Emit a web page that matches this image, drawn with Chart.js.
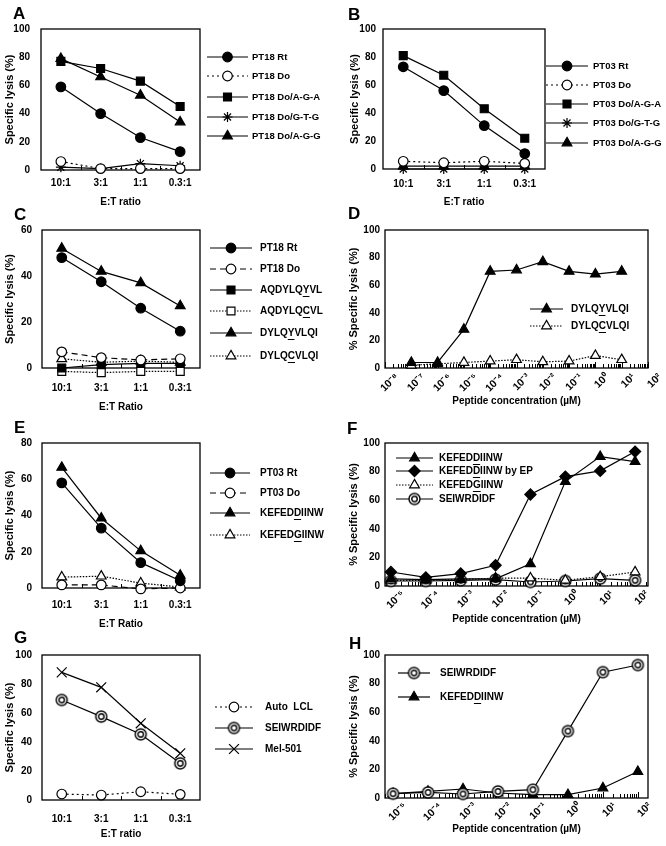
<!DOCTYPE html>
<html>
<head>
<meta charset="utf-8">
<script src="https://cdn.jsdelivr.net/npm/chart.js@4.4.1/dist/chart.umd.min.js"></script>
<style>
  body { margin: 0; background: #fff; }
  #fig { position: relative; width: 666px; height: 846px; overflow: hidden; }
  .panel { position: absolute; }
  .tag { position: absolute; font: bold 17px 'Liberation Sans', Arial, sans-serif; line-height: 1; }
</style>
</head>
<body>
<div id="fig"></div>
<script>
const etRatios = ["10:1", "3:1", "1:1", "0.3:1"];

// A
const aRt = [59, 40, 23, 13];
const aDo = [6, 1, 1, 1];
const aAGA = [77, 72, 63, 45];
const aGTG = [2, 1, 4.5, 3];
const aAGG = [79, 66, 53, 34];
// B
const bRt = [73, 56, 31, 11];
const bDo = [5.5, 4.5, 5.5, 4];
const bAGA = [81, 67, 43, 22];
const bGTG = [0, 0, 0, 0];
const bAGG = [2, 2, 2, 2];
// C
const cRt = [48, 37.5, 26, 16];
const cDo = [7, 4.5, 3.5, 4];
const cAqY = [0, 1.5, 2, 2];
const cAqC = [-1.5, -2, -1.5, -1.5];
const cDyY = [52, 42, 37, 27];
const cDyC = [4, 2.5, 3, 2.5];
// D
const concD = [1e-7, 1e-6, 1e-5, 1e-4, 1e-3, 1e-2, 1e-1, 1, 10];
const dDyY = [4, 4, 28, 70, 71, 77, 70, 68, 70];
const dDyC = [2, 3, 4, 5, 6, 4.5, 5, 9, 6];
// E
const eRt = [58, 33, 14, 4];
const eDo = [1.7, 1.7, -0.5, 0];
const eKD = [66.5, 38.5, 20.5, 7];
const eKG = [6, 6.5, 2.7, 0.5];
// F
const concF = [1e-5, 1e-4, 1e-3, 1e-2, 1e-1, 1, 10, 100];
const fKD = [5, 4.5, 5, 5, 15.5, 73, 90.5, 87];
const fKDep = [9.8, 6, 8.7, 14.5, 64, 76.5, 80.5, 94];
const fKG = [4, 4, 4.5, 5.5, 5.5, 4, 6.5, 9.8];
const fSE = [3.5, 3.5, 4, 4.5, 2.8, 3.5, 5.2, 4];
// G
const gLCL = [4.1, 3.4, 5.7, 3.9];
const gSE = [69, 57.5, 45.3, 25.3];
const gMel = [88, 77.7, 52.9, 32.2];
// H
const concH = [1e-5, 1e-4, 1e-3, 1e-2, 1e-1, 1, 10, 100];
const hSE = [3, 3.9, 2.8, 4.6, 5.8, 46.8, 88, 93];
const hKD = [3, 4.6, 6.3, 3.5, 2.3, 2.3, 7, 18.5];

const FONT = "'Liberation Sans', Arial, sans-serif";
Chart.defaults.font.family = FONT;
Chart.defaults.font.weight = "bold";
Chart.defaults.color = "#000";

function ringMark(r) {
  const c = document.createElement("canvas");
  const s = 2 * Math.ceil(r) + 3;
  c.width = s;
  c.height = s;
  const g = c.getContext("2d");
  g.strokeStyle = "#000";
  g.fillStyle = "#fff";
  g.lineWidth = 1.4;
  g.beginPath();
  g.arc(s / 2, s / 2, r, 0, Math.PI * 2);
  g.fill();
  g.stroke();
  g.beginPath();
  g.arc(s / 2, s / 2, r * 0.5, 0, Math.PI * 2);
  g.stroke();
  return c;
}
const ring = ringMark(5.5);

const marks = {
  fc: ["circle", "#000", 4.8],
  oc: ["circle", "#fff", 4.8],
  fs: ["rect", "#000", 5.6],
  os: ["rect", "#fff", 5.6],
  ft: ["triangle", "#000", 5.6],
  ot: ["triangle", "#fff", 5.6],
  dm: ["rectRot", "#000", 5.6],
  st: ["star", "#000", 5],
  xx: ["crossRot", "#000", 7],
  ring: [ring, "#fff", 6],
};
const dashes = { solid: [], dot: [2, 3], dash: [6, 4], fine: [1.5, 1.5] };

function series(label, data, mark, dash, ul) {
  const m = marks[mark];
  return {
    label: label,
    data: data,
    ul: ul,
    pointStyle: m[0],
    pointBackgroundColor: m[1],
    pointRadius: m[2],
    pointBorderColor: "#000",
    pointBorderWidth: 1.2,
    borderColor: "#000",
    borderWidth: 1.2,
    borderDash: dashes[dash],
    fill: false,
    tension: 0,
    clip: false,
  };
}

function pts(xs, ys) {
  return xs.map((x, i) => ({ x: x, y: ys[i] }));
}

const sup = { "-": "\u207B", 0: "\u2070", 1: "\u00B9", 2: "\u00B2", 3: "\u00B3", 4: "\u2074", 5: "\u2075", 6: "\u2076", 7: "\u2077", 8: "\u2078", 9: "\u2079" };
function powLabel(v) {
  const e = String(Math.round(Math.log10(v)));
  return "10" + e.split("").map((c) => sup[c]).join("");
}

// box round the plot area + small inner ticks on the bottom edge
const frame = {
  id: "frame",
  beforeDatasetsDraw(chart) {
    const { ctx, chartArea: a } = chart;
    const x = chart.scales.x;
    ctx.save();
    ctx.strokeStyle = "#000";
    ctx.lineWidth = 1.3;
    ctx.strokeRect(a.left, a.top, a.right - a.left, a.bottom - a.top);
    ctx.lineWidth = 1;
    ctx.beginPath();
    if (x.type === "category") {
      for (let i = 0; i < x.ticks.length - 1; i++) {
        const px = Math.round((x.getPixelForTick(i) + x.getPixelForTick(i + 1)) / 2) + 0.5;
        ctx.moveTo(px, a.bottom);
        ctx.lineTo(px, a.bottom - 4);
      }
    } else {
      const lo = Math.floor(Math.log10(x.min));
      const hi = Math.ceil(Math.log10(x.max));
      for (let e = lo; e <= hi; e++) {
        for (let m = 1; m < 10; m++) {
          const v = m * Math.pow(10, e);
          if (v < x.min || v > x.max) continue;
          const px = Math.round(x.getPixelForValue(v)) + 0.5;
          ctx.moveTo(px, a.bottom);
          ctx.lineTo(px, a.bottom - (m === 1 ? 6 : 4));
        }
      }
    }
    ctx.stroke();
    ctx.restore();
  },
};

// legend drawn as line sample + marker + label, with one underlined letter
const keyBox = {
  id: "keyBox",
  afterDraw(chart, args, o) {
    if (!o.rows) return;
    const ctx = chart.ctx;
    chart.data.datasets.forEach((ds, i) => {
      const y = o.rows[i];
      ctx.save();
      ctx.strokeStyle = "#000";
      ctx.lineWidth = ds.borderWidth;
      ctx.setLineDash(ds.borderDash);
      ctx.beginPath();
      ctx.moveTo(o.x0, y);
      ctx.lineTo(o.x1, y);
      ctx.stroke();
      ctx.setLineDash([]);
      ctx.fillStyle = ds.pointBackgroundColor;
      ctx.lineWidth = ds.pointBorderWidth;
      Chart.helpers.drawPoint(
        ctx,
        { pointStyle: ds.pointStyle, radius: ds.pointRadius, rotation: 0, borderWidth: ds.pointBorderWidth },
        (o.x0 + o.x1) / 2,
        y
      );
      ctx.fillStyle = "#000";
      ctx.font = "bold " + o.size + "px " + FONT;
      ctx.textBaseline = "middle";
      ctx.fillText(ds.label, o.tx, y);
      if (ds.ul != null) {
        const before = ctx.measureText(ds.label.slice(0, ds.ul)).width;
        const w = ctx.measureText(ds.label[ds.ul]).width;
        const uy = Math.round(y + o.size * 0.6) + 0.5;
        ctx.lineWidth = 1;
        ctx.beginPath();
        ctx.moveTo(o.tx + before, uy);
        ctx.lineTo(o.tx + before + w, uy);
        ctx.stroke();
      }
      ctx.restore();
    });
  },
};

function buildPanel(p) {
  const fig = document.getElementById("fig");
  const box = document.createElement("div");
  box.className = "panel";
  box.style.left = p.left + "px";
  box.style.top = p.top + "px";
  const canvas = document.createElement("canvas");
  canvas.width = 333;
  canvas.height = p.h;
  box.appendChild(canvas);
  fig.appendChild(box);

  const tag = document.createElement("div");
  tag.className = "tag";
  tag.textContent = p.letter;
  tag.style.left = p.left + p.tag[0] + "px";
  tag.style.top = p.top + p.tag[1] - 2 + "px";
  fig.appendChild(tag);

  const a = p.area;
  let xScale;
  if (p.log) {
    xScale = {
      type: "logarithmic",
      min: p.xmin,
      max: p.xmax,
      grid: { display: false, drawTicks: false },
      border: { display: false },
      afterBuildTicks: (s) => {
        const t = [];
        for (let e = Math.ceil(Math.log10(s.min) - 1e-9); e <= Math.floor(Math.log10(s.max) + 1e-9); e++) {
          t.push({ value: Math.pow(10, e) });
        }
        s.ticks = t;
      },
      ticks: {
        autoSkip: false,
        minRotation: 45,
        maxRotation: 45,
        labelOffset: 12,
        padding: p.xTickPad,
        font: { size: 10.5, weight: "bold" },
        callback: (v) => powLabel(v),
      },
      title: { display: true, text: p.xTitle, font: { size: 10, weight: "bold" }, padding: { top: 0, bottom: p.xTitlePad } },
      afterFit: (s) => { s.height = p.h - a.b; },
    };
  } else {
    xScale = {
      type: "category",
      offset: true,
      grid: { display: false, drawTicks: false },
      border: { display: false },
      ticks: { padding: p.xTickPad, font: { size: 10, weight: "bold" } },
      title: { display: true, text: p.xTitle, font: { size: 10, weight: "bold" }, padding: { top: 0, bottom: p.xTitlePad } },
      afterFit: (s) => { s.height = p.h - a.b; },
    };
  }

  new Chart(canvas, {
    type: "line",
    data: { labels: p.labels, datasets: p.datasets },
    options: {
      responsive: false,
      animation: false,
      devicePixelRatio: 1,
      layout: { padding: { left: 0, top: a.t, right: 333 - a.r, bottom: 0 } },
      plugins: {
        legend: { display: false },
        tooltip: { enabled: false },
        keyBox: p.key,
      },
      scales: {
        x: xScale,
        y: {
          type: "linear",
          min: 0,
          max: p.ymax,
          grid: { display: false, drawTicks: false },
          border: { display: false },
          ticks: { stepSize: 20, padding: p.yTickPad, font: { size: 10, weight: "bold" } },
          title: { display: true, text: p.yTitle, font: { size: 11, weight: "bold" }, padding: { top: p.yTitlePad, bottom: 0 } },
          afterFit: (s) => { s.width = a.l; },
        },
      },
    },
    plugins: [frame, keyBox],
  });
}

const lysis = "Specific lysis (%)";
const pctLysis = "% Specific lysis (%)";
const conc = "Peptide concentration (\u00B5M)";

buildPanel({
  letter: "A", left: 0, top: 0, h: 208, tag: [13, 7],
  area: { l: 41, t: 29, r: 200, b: 170 },
  labels: etRatios, ymax: 100, yTickPad: 11, yTitle: lysis, yTitlePad: 3,
  xTitle: "E:T ratio", xTitlePad: 0, xTickPad: 7,
  datasets: [
    series("PT18 Rt", aRt, "fc", "solid"),
    series("PT18 Do", aDo, "oc", "dot"),
    series("PT18 Do/A-G-A", aAGA, "fs", "solid"),
    series("PT18 Do/G-T-G", aGTG, "st", "solid"),
    series("PT18 Do/A-G-G", aAGG, "ft", "solid"),
  ],
  key: { x0: 207, x1: 248, tx: 252, rows: [57, 76, 97, 117, 136], size: 9.5 },
});

buildPanel({
  letter: "B", left: 333, top: 0, h: 208, tag: [15, 8],
  area: { l: 50, t: 29, r: 212, b: 169 },
  labels: etRatios, ymax: 100, yTickPad: 7, yTitle: lysis, yTitlePad: 15,
  xTitle: "E:T ratio", xTitlePad: 0, xTickPad: 9,
  datasets: [
    series("PT03 Rt", bRt, "fc", "solid"),
    series("PT03 Do", bDo, "oc", "dot"),
    series("PT03 Do/A-G-A", bAGA, "fs", "solid"),
    series("PT03 Do/G-T-G", bGTG, "st", "solid"),
    series("PT03 Do/A-G-G", bAGG, "ft", "solid"),
  ],
  key: { x0: 213, x1: 255, tx: 260, rows: [66, 85, 104, 123, 143], size: 9.5 },
});

buildPanel({
  letter: "C", left: 0, top: 207, h: 210, tag: [14, 1],
  area: { l: 42, t: 23, r: 200, b: 161 },
  labels: etRatios, ymax: 60, yTickPad: 10, yTitle: lysis, yTitlePad: 3,
  xTitle: "E:T Ratio", xTitlePad: 4, xTickPad: 14,
  datasets: [
    series("PT18 Rt", cRt, "fc", "solid"),
    series("PT18 Do", cDo, "oc", "dash"),
    series("AQDYLQYVL", cAqY, "fs", "solid", 6),
    series("AQDYLQCVL", cAqC, "os", "fine", 6),
    series("DYLQYVLQI", cDyY, "ft", "solid", 4),
    series("DYLQCVLQI", cDyC, "ot", "fine", 4),
  ],
  key: { x0: 210, x1: 252, tx: 260, rows: [41, 62, 83, 104, 126, 149], size: 10 },
});

buildPanel({
  letter: "D", left: 333, top: 207, h: 210, tag: [15, 0],
  area: { l: 52, t: 23, r: 315, b: 161 },
  log: true, xmin: 1e-8, xmax: 1e2,
  ymax: 100, yTickPad: 5, yTitle: pctLysis, yTitlePad: 14,
  xTitle: conc, xTitlePad: 10, xTickPad: 3,
  datasets: [
    series("DYLQYVLQI", pts(concD, dDyY), "ft", "solid", 4),
    series("DYLQCVLQI", pts(concD, dDyC), "ot", "fine", 4),
  ],
  key: { x0: 197, x1: 230, tx: 238, rows: [102, 119], size: 10 },
});

buildPanel({
  letter: "E", left: 0, top: 416, h: 214, tag: [14, 5],
  area: { l: 42, t: 27, r: 200, b: 172 },
  labels: etRatios, ymax: 80, yTickPad: 10, yTitle: lysis, yTitlePad: 3,
  xTitle: "E:T Ratio", xTitlePad: 0, xTickPad: 11,
  datasets: [
    series("PT03 Rt", eRt, "fc", "solid"),
    series("PT03 Do", eDo, "oc", "dash"),
    series("KEFEDDIINW", eKD, "ft", "solid", 5),
    series("KEFEDGIINW", eKG, "ot", "fine", 5),
  ],
  key: { x0: 210, x1: 250, tx: 260, rows: [57, 77, 97, 119], size: 10 },
});

buildPanel({
  letter: "F", left: 333, top: 416, h: 214, tag: [14, 6],
  area: { l: 52, t: 27, r: 315, b: 170 },
  log: true, xmin: Math.pow(10, -5.17), xmax: Math.pow(10, 2.37),
  ymax: 100, yTickPad: 5, yTitle: pctLysis, yTitlePad: 14,
  xTitle: conc, xTitlePad: 5, xTickPad: 2,
  datasets: [
    series("KEFEDDIINW", pts(concF, fKD), "ft", "solid", 5),
    series("KEFEDDIINW by EP", pts(concF, fKDep), "dm", "solid", 5),
    series("KEFEDGIINW", pts(concF, fKG), "ot", "fine", 5),
    series("SEIWRDIDF", pts(concF, fSE), "ring", "solid"),
  ],
  key: { x0: 63, x1: 100, tx: 106, rows: [42, 55, 69, 83], size: 10 },
});

buildPanel({
  letter: "G", left: 0, top: 627, h: 219, tag: [14, 4],
  area: { l: 42, t: 28, r: 200, b: 173 },
  labels: etRatios, ymax: 100, yTickPad: 10, yTitle: lysis, yTitlePad: 3,
  xTitle: "E:T ratio", xTitlePad: 6, xTickPad: 13,
  datasets: [
    series("Auto  LCL", gLCL, "oc", "dot"),
    series("SEIWRDIDF", gSE, "ring", "solid"),
    series("Mel-501", gMel, "xx", "solid"),
  ],
  key: { x0: 215, x1: 253, tx: 265, rows: [80, 101, 122], size: 10 },
});

buildPanel({
  letter: "H", left: 333, top: 627, h: 219, tag: [16, 10],
  area: { l: 52, t: 28, r: 315, b: 171 },
  log: true, xmin: Math.pow(10, -5.23), xmax: Math.pow(10, 2.29),
  ymax: 100, yTickPad: 5, yTitle: pctLysis, yTitlePad: 14,
  xTitle: conc, xTitlePad: 11, xTickPad: 2,
  datasets: [
    series("SEIWRDIDF", pts(concH, hSE), "ring", "solid"),
    series("KEFEDDIINW", pts(concH, hKD), "ft", "solid", 5),
  ],
  key: { x0: 65, x1: 97, tx: 107, rows: [46, 70], size: 10 },
});
</script>
</body>
</html>
